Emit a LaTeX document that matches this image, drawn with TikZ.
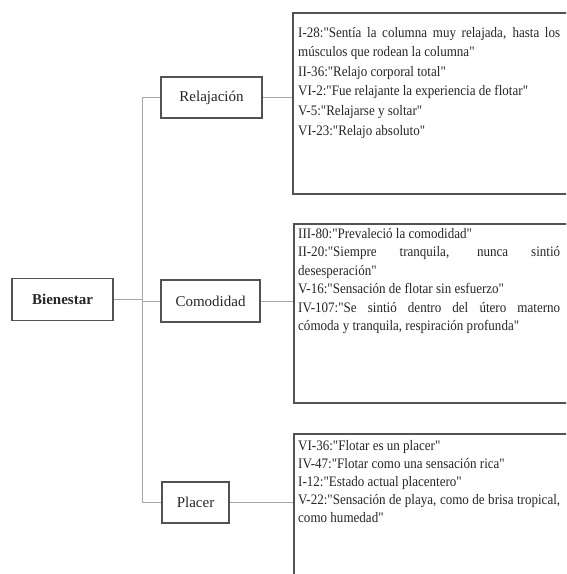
\documentclass[tikz,border=0pt]{standalone}
\usepackage{fontspec}
\setmainfont{Liberation Serif}
\newfontfamily\narrowserif[FakeStretch=0.9]{Liberation Serif}
\newcommand{\jline}[1]{\makebox[262pt][s]{#1}}
\newcommand{\normalspaces}{\spaceskip=0pt\xspaceskip=0pt\hyphenpenalty=10000\relax}
\begin{document}
\begin{tikzpicture}[x=1pt,y=-1pt,
  cat/.style={draw=black!68, line width=1.8pt, fill=white, inner sep=0pt,
    font=\fontsize{15}{18}\selectfont, text=black!85},
  tbox/.style={draw=black!68, line width=1.8pt, fill=white, inner sep=0pt,
    anchor=north west, minimum width=280pt},
  txt/.style={anchor=base west, text width=270pt, align=left, inner sep=0pt,
    text=black!85},
  conn/.style={draw=black!35, line width=0.9pt}]
\useasboundingbox (0,0) rectangle (566,574);
\fill[white] (0,0) rectangle (566,574);
\clip (0,0) rectangle (566,574);

% category boxes
\node[cat, minimum width=101pt, minimum height=42pt,
  font={\fontsize{15}{18}\selectfont\bfseries}] (bien) at (62.5,299.5) {Bienestar};
\node[cat, minimum width=101pt, minimum height=41pt] (rel) at (211.5,97.5) {Relajación};
\node[cat, minimum width=99pt, minimum height=42pt] (com) at (210.5,301) {Comodidad};
\node[cat, minimum width=67pt, minimum height=41pt] (pla) at (195.5,502.5) {Placer};

% quote boxes
\node[tbox, minimum height=181pt] (trel) at (292,12) {};
\node[tbox, minimum height=179pt] (tcom) at (293,223) {};
\node[tbox, minimum height=170pt] (tpla) at (293,433) {};

\node[txt, font={\narrowserif\fontsize{14.5}{19.6}\selectfont}] (trelt) at (298,37) {%
\normalspaces
\jline{I-28:"Sentía la columna muy relajada, hasta los}\\
músculos que rodean la columna"\\
II-36:"Relajo corporal total"\\
VI-2:"Fue relajante la experiencia de flotar"\\
V-5:"Relajarse y soltar"\\
VI-23:"Relajo absoluto"};

\node[txt, font={\narrowserif\fontsize{14.5}{18.5}\selectfont}] (tcomt) at (298,238) {%
\normalspaces
III-80:"Prevaleció la comodidad"\\
\jline{II-20:"Siempre tranquila, nunca sintió}\\
desesperación"\\
V-16:"Sensación de flotar sin esfuerzo"\\
\jline{IV-107:"Se sintió dentro del útero materno}\\
cómoda y tranquila, respiración profunda"};

\node[txt, font={\narrowserif\fontsize{14.5}{18.1}\selectfont}] (tplat) at (298,450) {%
\normalspaces
VI-36:"Flotar es un placer"\\
IV-47:"Flotar como una sensación rica"\\
I-12:"Estado actual placentero"\\
\jline{V-22:"Sensación de playa, como de brisa tropical,}\\
como humedad"};

% connectors
\coordinate (j) at (142,299.5);
\draw[conn] (bien.east) -- (j);
\draw[conn] (j) |- (rel.west);
\draw[conn] (j) |- (com.west);
\draw[conn] (j) |- (pla.west);
\draw[conn] (rel.east) -- (rel.east -| trel.west);
\draw[conn] (com.east) -- (com.east -| tcom.west);
\draw[conn] (pla.east) -- (pla.east -| tpla.west);
\end{tikzpicture}
\end{document}
